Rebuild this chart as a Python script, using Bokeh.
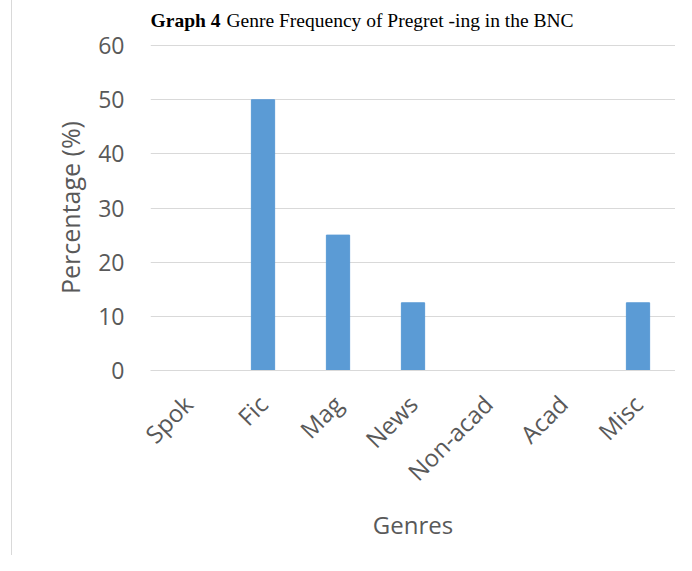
import math
from bokeh.plotting import figure
from bokeh.models import Range1d, FixedTicker, Label
from bokeh.embed import file_html
from bokeh.resources import INLINE

genres = ["Spok", "Fic", "Mag", "News", "Non-acad", "Acad", "Misc"]
percentages = [0, 50, 25, 12.5, 0, 0, 12.5]
y_ticks = [0, 10, 20, 30, 40, 50, 60]
title_bold = "Graph 4"
title_rest = "Genre Frequency of Pregret -ing in the BNC"

# canvas is shifted 12px right (left border line of the chart area)
OX = 12
W, H = 676 - OX, 555
FL, FR, FT, FB = 150 - OX, 675 - OX, 44, 370

p = figure(x_range=genres, y_range=Range1d(0, 60.2), width=W, height=H,
           output_backend="svg", toolbar_location=None,
           min_border_left=FL, min_border_right=W - FR,
           min_border_top=FT, min_border_bottom=H - FB)
p.styles = {"margin-left": "11px", "border-left": "1px solid #d9d9d9"}
p.outline_line_color = None
p.background_fill_color = "white"
p.border_fill_color = "white"

p.vbar(x=genres, top=percentages, width=0.31, color="#5b9bd5")

p.xgrid.visible = False
p.ygrid.grid_line_color = "#d9d9d9"
p.ygrid.ticker = FixedTicker(ticks=y_ticks)

font = "Open Sans"
gray = "#595959"

p.yaxis.ticker = FixedTicker(ticks=y_ticks)
p.yaxis.axis_line_color = None
p.yaxis.major_tick_line_color = None
p.yaxis.minor_tick_line_color = None
p.yaxis.major_label_standoff = 20
p.yaxis.axis_label = "Percentage (%)"
p.yaxis.axis_label_standoff = 8

p.xaxis.axis_line_color = "#d9d9d9"
p.xaxis.major_tick_line_color = None
p.xaxis.minor_tick_line_color = None
p.xaxis.major_label_orientation = math.pi / 4
p.xaxis.major_label_standoff = 23
p.xaxis.axis_label = "Genres"
p.xaxis.axis_label_standoff = 6

for ax in (p.xaxis, p.yaxis):
    ax.major_label_text_font = font
    ax.major_label_text_color = gray
    ax.axis_label_text_font = font
    ax.axis_label_text_color = gray
    ax.axis_label_text_font_style = "normal"
p.yaxis.major_label_text_font_size = "23px"
p.xaxis.major_label_text_font_size = "24px"
p.yaxis.axis_label_text_font_size = "25px"
p.xaxis.axis_label_text_font_size = "24px"

# title: two labels in the top side panel (bold "Graph 4" + regular rest)
TS = "19.5px"
TY = 20
p.add_layout(Label(x=219 - OX, y=TY, x_units="canvas", y_units="canvas",
                   text=title_bold, text_font="Liberation Serif", text_font_style="bold",
                   text_font_size=TS, text_color="black",
                   text_align="right", text_baseline="alphabetic"), "above")
p.add_layout(Label(x=225 - OX, y=TY, x_units="canvas", y_units="canvas",
                   text=title_rest, text_font="Liberation Serif", text_font_style="normal",
                   text_font_size=TS, text_color="black",
                   text_align="left", text_baseline="alphabetic"), "above")

open("out.html", "w").write(file_html(p, INLINE))
